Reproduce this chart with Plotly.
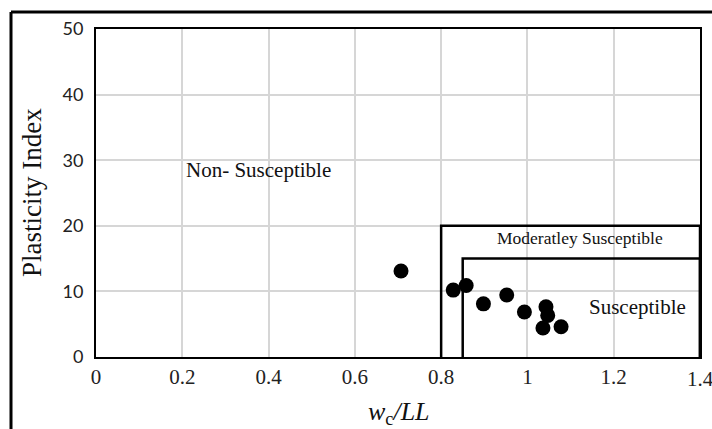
import plotly.graph_objects as go

# Data points (wc/LL, Plasticity Index)
wc_ll = [0.707, 0.828, 0.858, 0.898, 0.952, 0.993, 1.043, 1.047, 1.036, 1.078]
plasticity_index = [13.1, 10.2, 10.9, 8.1, 9.45, 6.86, 7.67, 6.34, 4.42, 4.62]

# Zone boundaries
moderate_x = [0.8, 0.8, 1.4, 1.4]
moderate_y = [0, 20, 20, 0]
susceptible_x = [0.85, 0.85, 1.4, 1.4]
susceptible_y = [0, 15, 15, 0]

# Zone labels
zone_labels = ["Non- Susceptible", "Moderatley Susceptible", "Susceptible"]
zone_label_x = [0.376, 1.122, 1.254]
zone_label_y = [28.5, 18.1, 7.6]
zone_label_size = [21, 17.5, 21]

x_ticks = [0, 0.2, 0.4, 0.6, 0.8, 1.0, 1.2]
x_tick_text = ["0", "0.2", "0.4", "0.6", "0.8", "1", "1.2"]
x_last_tick = 1.4
x_last_text = "1.4"
y_ticks = [0, 10, 20, 30, 40, 50]

serif = "Liberation Serif, Times New Roman, serif"

fig = go.Figure()

fig.add_trace(go.Scatter(x=moderate_x, y=moderate_y, mode="lines",
                         line=dict(color="black", width=2.5), cliponaxis=False,
                         showlegend=False, hoverinfo="skip"))
fig.add_trace(go.Scatter(x=susceptible_x, y=susceptible_y, mode="lines",
                         line=dict(color="black", width=2.5), cliponaxis=False,
                         showlegend=False, hoverinfo="skip"))
fig.add_trace(go.Scatter(x=wc_ll, y=plasticity_index, mode="markers",
                         marker=dict(color="black", size=15), cliponaxis=False,
                         showlegend=False))

for t, x, y, s in zip(zone_labels, zone_label_x, zone_label_y, zone_label_size):
    fig.add_annotation(x=x, y=y, text=t, showarrow=False,
                       font=dict(family=serif, size=s, color="#111"))

# Last x tick label (partly outside the figure, drawn as annotation)
fig.add_annotation(x=x_last_tick, xref="x", yref="paper", y=(357 - 379) / 328,
                   text=x_last_text, showarrow=False, xanchor="center", yanchor="middle",
                   font=dict(family=serif, size=21, color="#222"))

# Axis titles
fig.add_annotation(xref="paper", yref="paper", x=(399 - 96) / 604, y=(357 - 413) / 328,
                   xanchor="center", yanchor="middle",
                   text="<i>w</i><sub>c</sub><i>/LL</i>", showarrow=False,
                   font=dict(family=serif, size=26, color="#111"))
fig.add_annotation(xref="paper", yref="paper", x=(32 - 96) / 604, y=0.5,
                   xanchor="center", yanchor="middle",
                   text="Plasticity Index", showarrow=False, textangle=-90,
                   font=dict(family=serif, size=27, color="#111"))

# Outer frame (top and left borders)
fl = (11 - 96) / 604
ft = (357 - 12) / 328
fig.add_shape(type="line", xref="paper", yref="paper", x0=fl, x1=1.05, y0=ft, y1=ft,
              line=dict(color="black", width=3))
fig.add_shape(type="line", xref="paper", yref="paper", x0=fl, x1=fl, y0=ft, y1=-0.3,
              line=dict(color="black", width=3))

fig.update_layout(
    width=712, height=429,
    margin=dict(l=96, r=12, t=29, b=72, autoexpand=False),
    paper_bgcolor="white", plot_bgcolor="white",
    xaxis=dict(range=[0, 1.4], tickvals=x_ticks, ticktext=x_tick_text,
               showgrid=True, gridcolor="#d6d6d6", gridwidth=1.5,
               showline=True, linecolor="black", linewidth=2, mirror=True,
               ticks="", zeroline=False, automargin=False,
               tickfont=dict(family=serif, size=21, color="#222")),
    yaxis=dict(range=[0, 50], tickvals=y_ticks,
               showgrid=True, gridcolor="#d6d6d6", gridwidth=1.5,
               showline=True, linecolor="black", linewidth=2, mirror=True,
               ticks="", zeroline=False, automargin=False, ticklabelstandoff=7,
               tickfont=dict(family="Lato, Open Sans, sans-serif", size=18, color="#222")),
)

fig.write_html("out.html")
